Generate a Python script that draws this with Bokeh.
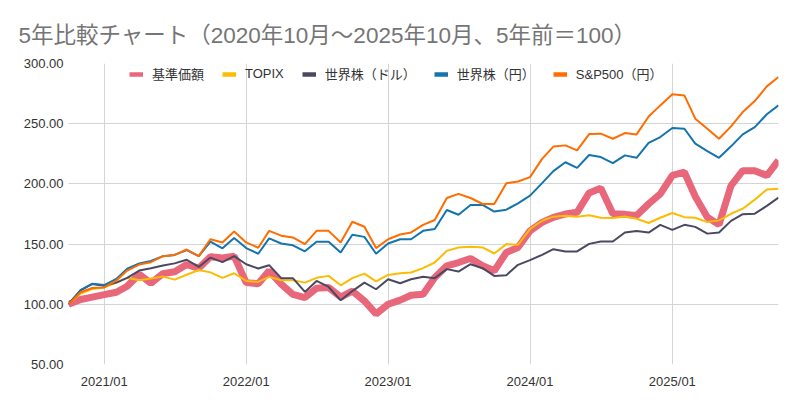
import pandas as pd
from bokeh.plotting import figure
from bokeh.models import (Range1d, FixedTicker, DatetimeTickFormatter, PrintfTickFormatter,
                          Legend, LegendItem, ColumnDataSource)
from bokeh.embed import file_html
from bokeh.resources import INLINE

TITLE = "5年比較チャート（2020年10月～2025年10月、5年前＝100）"
start_month = "2020-10-01"
n_points = 61

series_names = ["基準価額", "TOPIX", "世界株（ドル）", "世界株（円）", "S&P500（円）"]

kijun = [100, 104, 106, 108, 110, 115, 125, 117.5, 125.5, 127, 133, 130, 139.5, 138.5, 140,
         118, 117, 127.8, 116.7, 108.3, 105.6, 113.3, 113.9, 106, 111, 102.8, 92, 100, 103.5,
         107.5, 108.3, 122.2, 132, 134.7, 138, 132, 127.8, 143, 147.2, 161, 168, 172.2, 175,
         176.4, 192.5, 196.5, 175.2, 174.7, 173.7, 183.4, 191.7, 207, 209.7, 189.5, 172.3,
         166.2, 198.6, 211, 211, 206.9, 219.5]
topix = [100, 109, 112.6, 114, 118, 122, 120, 121.5, 123, 120.5, 124.5, 128.5, 126.5, 122, 125.8,
         119.4, 118.6, 122.8, 120, 120, 118, 122, 123.6, 115.8, 121.7, 125.5, 119, 124.4, 125.7,
         126.4, 130, 134.7, 144.4, 147.2, 147.8, 147.2, 142.2, 150, 149.4, 162.5, 169.4, 172.8,
         173.6, 172.8, 174, 171.9, 171.6, 173, 171, 167.5, 171.9, 175.8, 172.4, 171.9, 168.3,
         169.7, 175.2, 179.4, 186.9, 195.4, 196]
world_usd = [100, 111.8, 116.9, 115.4, 118, 122, 128, 130, 132.3, 134, 137, 131, 138.8, 135, 140,
             133.3, 129.7, 132.5, 121.7, 121.7, 110.3, 119.4, 114.4, 103.3, 111, 118, 112.5,
             120.8, 117.5, 120.8, 122.8, 121.7, 129.2, 127.2, 133.3, 130, 123.6, 124.2, 132.8,
             136.7, 141.1, 145.8, 143.9, 143.9, 150.2, 152.1, 152.1, 159.6, 160.9, 159.6, 166,
             161.8, 166, 164.3, 158.7, 159.6, 169.3, 174.8, 175.3, 181.7, 188.6]
world_jpy = [100, 111.5, 117, 116, 121, 129.5, 134, 136, 140, 141, 145, 140, 152, 146.5, 155,
             146.7, 142, 154.7, 150.5, 149, 144, 152, 152, 143, 157.8, 156, 142, 150.5, 154, 154,
             161, 162.5, 178.3, 174.4, 182.5, 182.5, 177, 178.6, 183.9, 190.3, 200.6, 210.6, 218,
             213.3, 224, 222.3, 217.3, 223.7, 221.7, 234, 238.9, 246.4, 245.8, 233.4, 227.3,
             221.7, 231.2, 241.1, 247.2, 257.8, 265.2]
sp500_jpy = [100, 110, 113.5, 114, 119.7, 128, 133, 135, 140, 141, 145.5, 140, 154, 151.4, 160.5,
             151.4, 147, 161, 157, 155.5, 150, 161, 161, 151.4, 168.6, 164.4, 146.7, 154, 158,
             159.7, 166, 170, 188.3, 191.7, 188.3, 183.3, 183.3, 200.6, 202, 205.6, 220.8, 231,
             232, 227.8, 241.4, 241.7, 237.5, 242.2, 241.1, 256, 265.2, 274.4, 273.5, 254.2,
             245.8, 237.5, 247.8, 259.7, 268.8, 281, 288.8]

x_tick_labels = ["2021/01", "2022/01", "2023/01", "2024/01", "2025/01"]
y_ticks = [50, 100, 150, 200, 250, 300]

colors = ["#e8677b", "#fbbc04", "#4b4862", "#1374ae", "#ff6d01"]
widths = [7, 2, 2, 2, 2]

dates = pd.date_range(start_month, periods=n_points, freq="MS")
all_values = [kijun, topix, world_usd, world_jpy, sp500_jpy]

FONT = "'Liberation Sans', 'Noto Sans CJK JP', sans-serif"

p = figure(width=792, height=397, x_axis_type="datetime", output_backend="svg",
           toolbar_location=None,
           x_range=Range1d(dates[0], dates[-1]), y_range=Range1d(y_ticks[0], y_ticks[-1]),
           min_border_left=68, min_border_right=14, min_border_top=63, min_border_bottom=33)

p.title.text = TITLE
p.title.text_font = FONT
p.title.text_font_size = "22.5px"
p.title.text_font_style = "normal"
p.title.text_color = "#757575"
p.title.align = "left"
p.title.offset = -50
p.title.standoff = 31

p.outline_line_color = None
p.background_fill_color = "white"

x_tick_pos = [pd.Timestamp(lbl.replace("/", "-") + "-01") for lbl in x_tick_labels]
x_tick_ms = [int(t.value // 10**6) for t in x_tick_pos]

p.xaxis.ticker = FixedTicker(ticks=x_tick_ms)
p.xaxis.formatter = DatetimeTickFormatter(years="%Y/%m", months="%Y/%m", days="%Y/%m",
                                          hours="%Y/%m", minutes="%Y/%m")
p.yaxis.ticker = FixedTicker(ticks=y_ticks)
p.yaxis.formatter = PrintfTickFormatter(format="%.2f")
p.xgrid.ticker = FixedTicker(ticks=x_tick_ms)
p.ygrid.ticker = FixedTicker(ticks=y_ticks)

for ax in (p.xaxis, p.yaxis):
    ax.axis_line_color = None
    ax.major_tick_line_color = None
    ax.minor_tick_line_color = None
    ax.major_tick_out = 0
    ax.major_tick_in = 0
    ax.minor_tick_out = 0
    ax.major_label_text_font = FONT
    ax.major_label_text_font_size = "13px"
    ax.major_label_text_color = "#333333"
p.yaxis.major_label_standoff = 5
p.xaxis.major_label_standoff = 9

for g in (p.xgrid, p.ygrid):
    g.grid_line_color = "#d4d4d4"
    g.grid_line_width = 1

for vals, c, w in zip(all_values, colors, widths):
    src = ColumnDataSource(dict(x=dates, y=vals))
    p.line("x", "y", source=src, line_color=c, line_width=w)

items = []
for name, c in zip(series_names, colors):
    dummy_src = ColumnDataSource(dict(x=[dates[0]], y=[float("nan")]))
    dummy = p.line("x", "y", source=dummy_src, line_color=c, line_width=4.5)
    items.append(LegendItem(label=name, renderers=[dummy]))

legend = Legend(items=items, orientation="horizontal", location=(61, 281),
                glyph_width=14, glyph_height=16, label_height=16, label_standoff=9,
                spacing=18, padding=0, margin=0,
                label_text_font=FONT, label_text_font_size="13px", label_text_color="#333333",
                background_fill_alpha=0, border_line_alpha=0)
p.add_layout(legend)

open("out.html", "w").write(file_html(p, INLINE))
